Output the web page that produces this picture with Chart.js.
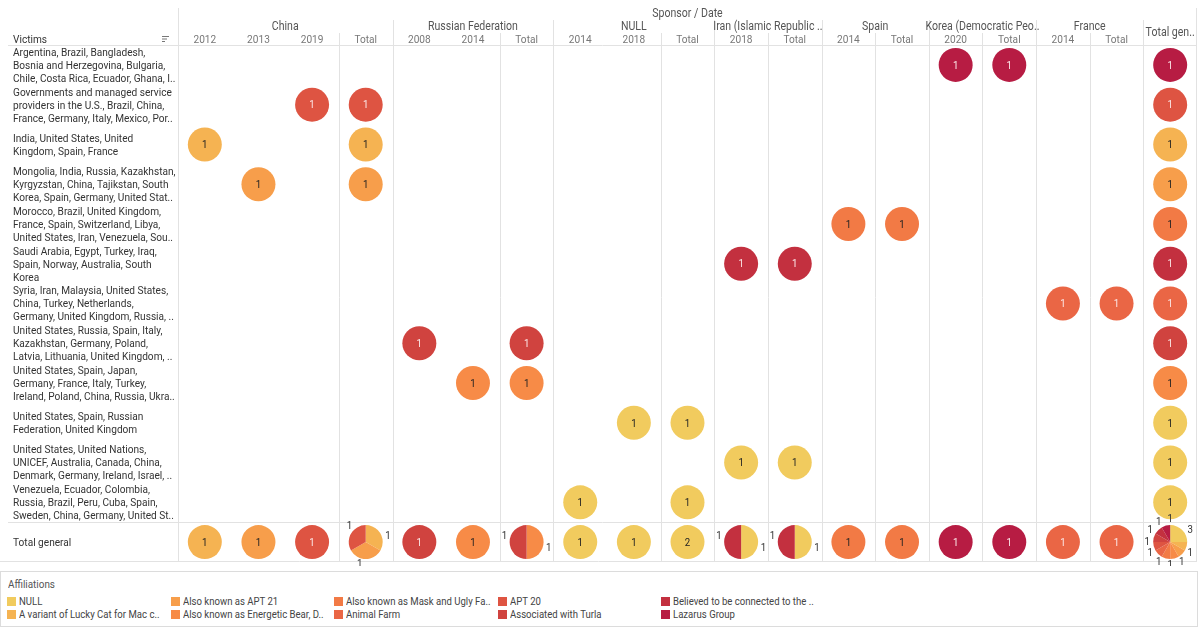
<!DOCTYPE html>
<html>
<head>
<meta charset="utf-8">
<script src="https://cdn.jsdelivr.net/npm/chart.js@4.4.1/dist/chart.umd.min.js"></script>
<style>
body { margin:0; background:#fff; font-family:Roboto, sans-serif; }
#wrap { position:absolute; left:0; top:0; width:1200px; height:566px; }
#legend { position:absolute; left:0; top:571px; width:1196px; height:54px; border:1px solid #dcdcdc; }
#legend .ttl { position:absolute; left:7px; top:6px; font-size:11px; color:#555; transform:scaleX(0.9); transform-origin:left; }
#legend .it { position:absolute; font-size:11px; color:#444; white-space:nowrap; line-height:12px; }
#legend .it i { display:inline-block; width:9px; height:9px; margin-right:3px; vertical-align:-1px; }
#legend .it span { display:inline-block; transform:scaleX(0.87); transform-origin:left; }
</style>
</head>
<body>
<div id="wrap"><canvas id="chart"></canvas></div>
<div id="legend"><div class="ttl">Affiliations</div></div>
<script>
const FONT = 'Roboto, sans-serif';

// columns: sponsor groups and their years
const sponsors = ['China', 'Russian Federation', 'NULL', 'Iran (Islamic Republic ..', 'Spain', 'Korea (Democratic Peo..', 'France'];
const sponsorYears = [['2012', '2013', '2019'], ['2008', '2014'], ['2014', '2018'], ['2018'], ['2014'], ['2020'], ['2014']];

// rows
const victims = [
  ['Argentina, Brazil, Bangladesh,', 'Bosnia and Herzegovina, Bulgaria,', 'Chile, Costa Rica, Ecuador, Ghana, I..'],
  ['Governments and managed service', 'providers in the U.S., Brazil, China,', 'France, Germany, Italy, Mexico, Por..'],
  ['India, United States, United', 'Kingdom, Spain, France'],
  ['Mongolia, India, Russia, Kazakhstan,', 'Kyrgyzstan, China, Tajikstan, South', 'Korea, Spain, Germany, United Stat..'],
  ['Morocco, Brazil, United Kingdom,', 'France, Spain, Switzerland, Libya,', 'United States, Iran, Venezuela, Sou..'],
  ['Saudi Arabia, Egypt, Turkey, Iraq,', 'Spain, Norway, Australia, South', 'Korea'],
  ['Syria, Iran, Malaysia, United States,', 'China, Turkey, Netherlands,', 'Germany, United Kingdom, Russia, ..'],
  ['United States, Russia, Spain, Italy,', 'Kazakhstan, Germany, Poland,', 'Latvia, Lithuania, United Kingdom, ..'],
  ['United States, Spain, Japan,', 'Germany, France, Italy, Turkey,', 'Ireland, Poland, China, Russia, Ukra..'],
  ['United States, Spain, Russian', 'Federation, United Kingdom'],
  ['United States, United Nations,', 'UNICEF, Australia, Canada, China,', 'Denmark, Germany, Ireland, Israel, ..'],
  ['Venezuela, Ecuador, Colombia,', 'Russia, Brazil, Peru, Cuba, Spain,', 'Sweden, China, Germany, United St..'],
  ['Total general']
];

// colour legend
const affiliations = ['NULL', 'A variant of Lucky Cat for Mac c..', 'Also known as APT 21', 'Also known as Energetic Bear, D..',
  'Also known as Mask and Ugly Fa..', 'Animal Farm', 'APT 20', 'Associated with Turla', 'Believed to be connected to the ..', 'Lazarus Group'];
const affColors = ['#f1cb5e', '#f5b352', '#f79e4b', '#f78b47', '#f27a45', '#ea6645', '#de5442', '#d0433f', '#c3303f', '#b71c43'];

// one record per victim row: sponsor index, year, affiliation index
const recVictim = [0, 1, 2, 3, 4, 5, 6, 7, 8, 9, 10, 11];
const recSponsor = [5, 0, 0, 0, 4, 3, 6, 1, 1, 2, 3, 2];
const recYear = ['2020', '2019', '2012', '2013', '2014', '2018', '2014', '2008', '2014', '2018', '2018', '2014'];
const recAffil = [9, 6, 1, 2, 4, 8, 5, 7, 3, 0, 0, 0];

// build column list
const colSponsor = [], colYear = [], colKeys = [];
sponsors.forEach((s, si) => {
  sponsorYears[si].concat(['Total']).forEach(y => { colSponsor.push(si); colYear.push(y); colKeys.push(s + ' ' + y); });
});
colSponsor.push(-1); colYear.push(''); colKeys.push('Total general col');
const rowKeys = victims.map(v => v.join(' '));
const totalRow = victims.length - 1, totalCol = colKeys.length - 1;

// aggregate counts per cell
const cells = {};
const colOf = (si, y) => colKeys.indexOf(sponsors[si] + ' ' + y);
for (let i = 0; i < recVictim.length; i++) {
  const cs = [colOf(recSponsor[i], recYear[i]), colOf(recSponsor[i], 'Total'), totalCol];
  [recVictim[i], totalRow].forEach(r => cs.forEach(c => {
    const k = r + '|' + c;
    if (!cells[k]) cells[k] = { r, c, n: new Array(affiliations.length).fill(0) };
    cells[k].n[recAffil[i]]++;
  }));
}

const R = 17;
const datasets = affiliations.map((a, ai) => ({ label: a, data: [], backgroundColor: affColors[ai], borderWidth: 0 }));
const pies = [];
Object.values(cells).forEach(cell => {
  const used = cell.n.map((v, i) => v > 0 ? i : -1).filter(i => i >= 0);
  if (used.length === 1) datasets[used[0]].data.push({ x: colKeys[cell.c], y: rowKeys[cell.r], r: R, n: cell.n[used[0]] });
  else pies.push(cell);
});

// narrow text, to get close to Tableau's condensed face
const SX = 0.88;
function txt(ctx, s, x, y, align, size, color) {
  ctx.save();
  ctx.font = size + 'px ' + FONT; ctx.fillStyle = color; ctx.textBaseline = 'middle'; ctx.textAlign = align;
  ctx.translate(x, y); ctx.scale(SX, 1); ctx.fillText(s, 0, 0);
  ctx.restore();
}

const gridPlugin = {
  id: 'tabGrid',
  beforeDatasetsDraw(chart) {
    const ctx = chart.ctx, a = chart.chartArea, xs = chart.scales.x;
    const edge = i => i <= 0 ? a.left : (i > totalCol ? a.right : (xs.getPixelForValue(i - 1) + xs.getPixelForValue(i)) / 2);
    ctx.save(); ctx.strokeStyle = '#e2e2e2'; ctx.lineWidth = 1;
    const vline = (x, y0) => { ctx.beginPath(); ctx.moveTo(Math.round(x) + 0.5, y0); ctx.lineTo(Math.round(x) + 0.5, a.bottom); ctx.stroke(); };
    for (let i = 0; i <= colKeys.length; i++) {
      const prevS = colSponsor[i - 1], curS = colSponsor[i];
      if (i === 0 || i === colKeys.length) vline(edge(i) - (i ? 1 : 0), 8);
      else if (prevS !== curS) vline(edge(i), 20);
      else if (colYear[i] === 'Total') vline(edge(i), 33);
    }
    const hline = (y, x0) => { ctx.beginPath(); ctx.moveTo(x0, Math.round(y) + 0.5); ctx.lineTo(a.right, Math.round(y) + 0.5); ctx.stroke(); };
    const ys = chart.scales.y;
    hline(a.top, 8);
    hline((ys.getPixelForValue(totalRow - 1) + ys.getPixelForValue(totalRow)) / 2, 8);
    hline(a.bottom - 1, 0);
    ctx.restore();
  },
  afterDatasetsDraw(chart) {
    const ctx = chart.ctx, xs = chart.scales.x, ys = chart.scales.y;
    // bubble labels
    chart.data.datasets.forEach((ds, di) => {
      chart.getDatasetMeta(di).data.forEach((el, j) => {
        txt(ctx, String(ds.data[j].n), el.x, el.y + 1, 'center', 11, di >= 5 ? '#fbe9e9' : '#222');
      });
    });
    // pie cells
    pies.forEach(cell => {
      const cx = xs.getPixelForValue(cell.c), cy = ys.getPixelForValue(cell.r);
      const tot = cell.n.reduce((s, v) => s + v, 0);
      let ang = -Math.PI / 2;
      const labels = [];
      cell.n.forEach((v, ai) => {
        if (!v) return;
        const a1 = ang + v / tot * Math.PI * 2;
        ctx.beginPath(); ctx.moveTo(cx, cy); ctx.arc(cx, cy, R, ang, a1); ctx.closePath();
        ctx.fillStyle = affColors[ai]; ctx.fill();
        labels.push([v, (ang + a1) / 2 + Math.PI / 12]);
        ang = a1;
      });
      labels.forEach(([v, m]) => txt(ctx, String(v), cx + Math.cos(m) * (R + 6), cy + Math.sin(m) * (R + 6), 'center', 11, '#333'));
    });
  },
  afterDraw(chart) {
    const ctx = chart.ctx, xs = chart.scales.x, ys = chart.scales.y, a = chart.chartArea;
    txt(ctx, 'Sponsor / Date', (a.left + a.right) / 2, 14, 'center', 12, '#555');
    sponsors.forEach((s, si) => {
      const idx = colSponsor.map((v, i) => v === si ? i : -1).filter(i => i >= 0);
      const x = (xs.getPixelForValue(idx[0]) + xs.getPixelForValue(idx[idx.length - 1])) / 2;
      txt(ctx, s, x, 27, 'center', 12, '#555');
    });
    colYear.forEach((y, i) => { if (y) txt(ctx, y, xs.getPixelForValue(i), 40, 'center', 11.5, '#777'); });
    txt(ctx, 'Total gen..', xs.getPixelForValue(totalCol), 33, 'center', 12, '#555');
    txt(ctx, 'Victims', 13, 40.5, 'left', 11.5, '#333');
    victims.forEach((lines, r) => {
      const cy = ys.getPixelForValue(r) + 1, y0 = cy - (lines.length - 1) * 13 / 2;
      lines.forEach((ln, k) => txt(ctx, ln, 13, y0 + k * 13, 'left', 11.5, '#333'));
    });
    ctx.save();
    ctx.strokeStyle = '#777'; ctx.lineWidth = 1;
    [[162, 169], [162, 167], [162, 165]].forEach(([x0, x1], k) => { ctx.beginPath(); ctx.moveTo(x0, 36.5 + k * 2.5); ctx.lineTo(x1, 36.5 + k * 2.5); ctx.stroke(); });
    ctx.restore();
  }
};

new Chart(document.getElementById('chart'), {
  type: 'bubble',
  data: { datasets },
  options: {
    responsive: true, maintainAspectRatio: false, animation: false, events: [],
    layout: { autoPadding: false, padding: { left: 13, right: 3, top: 0, bottom: 4 } },
    plugins: { legend: { display: false }, tooltip: { enabled: false } },
    scales: {
      x: {
        type: 'category', labels: colKeys, position: 'top', offset: true,
        grid: { display: false, drawTicks: false }, border: { display: false },
        ticks: { display: false },
        afterFit: s => { s.height = 45; }
      },
      y: {
        type: 'category', labels: rowKeys, offset: true,
        grid: { display: false, drawTicks: false }, border: { display: false },
        ticks: { display: false },
        afterFit: s => { s.width = 165; }
      }
    }
  },
  plugins: [gridPlugin]
});

// legend, filled column by column
const legCols = [6, 170, 333, 497, 660];
const legend = document.getElementById('legend');
affiliations.forEach((a, i) => {
  const d = document.createElement('div');
  d.className = 'it';
  d.style.left = legCols[Math.floor(i / 2)] + 'px';
  d.style.top = (i % 2 === 0 ? 24 : 37) + 'px';
  d.innerHTML = '<i style="background:' + affColors[i] + '"></i><span>' + a + '</span>';
  legend.appendChild(d);
});
</script>
</body>
</html>
